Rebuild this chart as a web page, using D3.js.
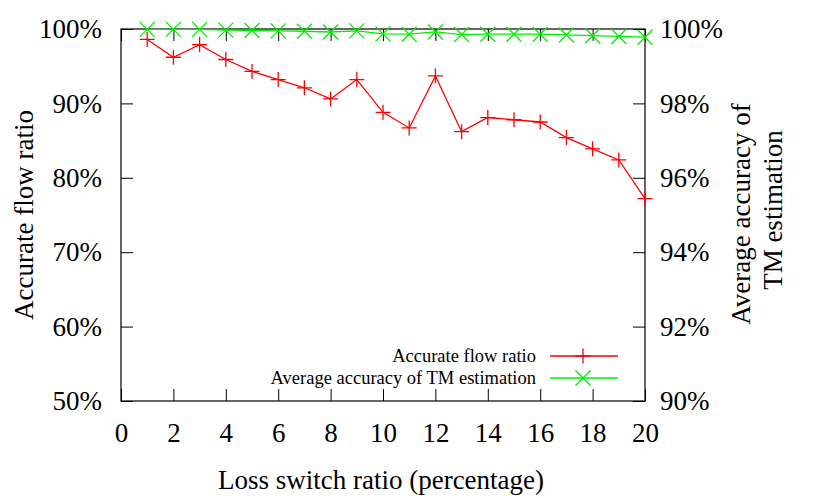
<!DOCTYPE html>
<html>
<head>
<meta charset="utf-8">
<script src="https://cdn.jsdelivr.net/npm/d3@7"></script>
<style>
  body { margin: 0; background: #fff; }
</style>
</head>
<body>
<div id="graphic"></div>
<script>
var switchRatio = d3.range(1, 21);

var flowRatio = [98.6, 96.2, 97.9, 95.9, 94.3, 93.2, 92.1, 90.6, 93.2, 88.8,
                 86.7, 93.7, 86.2, 88.1, 87.8, 87.5, 85.4, 83.9, 82.4, 77.2];

var tmAccuracy = [99.99, 99.99, 99.99, 99.97, 99.96, 99.95, 99.94, 99.92, 99.95, 99.87,
                  99.86, 99.92, 99.85, 99.86, 99.86, 99.86, 99.84, 99.82, 99.80, 99.78];

var xTicks = d3.range(0, 21, 2);
var leftTicks = [50, 60, 70, 80, 90, 100];
var rightTicks = [90, 92, 94, 96, 98, 100];

var seriesNames = ["Accurate flow ratio", "Average accuracy of TM estimation"];

var FONT = "'Liberation Serif', 'Times New Roman', Times, serif";

var graphic = new Object;

graphic.create = function() {
  var left = 121, right = 645, top = 29, bottom = 401, tick = 12;
  var svg = d3.select("#graphic").append("svg").attr("width", 830).attr("height", 498)
    .style("font-family", FONT);

  var x = d3.scaleLinear().domain([0, 20]).range([left, right]);
  var yl = d3.scaleLinear().domain([50, 100]).range([bottom, top]);
  var yr = d3.scaleLinear().domain([90, 100]).range([bottom, top]);

  var fmt = function(d) { return d + "%"; };

  // axes, ticks drawn inward like gnuplot
  var styleAxis = function(g) {
    g.attr("font-family", null).attr("font-size", null);
    g.select(".domain").remove();
    g.selectAll(".tick line").attr("stroke", "#000").attr("stroke-width", 1);
    g.selectAll(".tick text").style("font-size", "27px").style("font-family", FONT).attr("fill", "#000");
  };

  svg.append("g").attr("transform", "translate(0," + bottom + ")")
    .call(d3.axisBottom(x).tickValues(xTicks).tickSizeInner(-tick).tickPadding(22))
    .call(styleAxis);
  svg.append("g").attr("transform", "translate(0," + top + ")")
    .call(d3.axisTop(x).tickValues(xTicks).tickSizeInner(-tick).tickFormat(""))
    .call(styleAxis);
  svg.append("g").attr("transform", "translate(" + left + ",0)")
    .call(d3.axisLeft(yl).tickValues(leftTicks).tickFormat(fmt).tickSizeInner(-tick).tickPadding(19))
    .call(styleAxis);
  svg.append("g").attr("transform", "translate(" + right + ",0)")
    .call(d3.axisRight(yr).tickValues(rightTicks).tickFormat(fmt).tickSizeInner(-tick).tickPadding(15))
    .call(styleAxis);

  svg.append("rect").attr("x", left).attr("y", top)
    .attr("width", right - left).attr("height", bottom - top)
    .attr("fill", "none").attr("stroke", "#000").attr("stroke-width", 1.2);

  // titles
  var title = function(tr, txt) {
    return svg.append("text").attr("transform", tr).attr("text-anchor", "middle")
      .style("font-size", "27px").style("font-family", FONT).attr("fill", "#000").text(txt);
  };
  title("translate(381,489)", "Loss switch ratio (percentage)");
  title("translate(33,215) rotate(-90)", "Accurate flow ratio");
  title("translate(750,214) rotate(-90)", "Average accuracy of");
  title("translate(782,210) rotate(-90)", "TM estimation");

  var drawPlus = function(g, cx, cy, s) {
    g.append("path").attr("d", "M" + (cx - s) + "," + cy + "H" + (cx + s) + "M" + cx + "," + (cy - s) + "V" + (cy + s));
  };
  var drawCross = function(g, cx, cy, s) {
    g.append("path").attr("d", "M" + (cx - s) + "," + (cy - s) + "L" + (cx + s) + "," + (cy + s) +
      "M" + (cx - s) + "," + (cy + s) + "L" + (cx + s) + "," + (cy - s));
  };

  // red series
  var redLine = d3.line().x(function(d, i) { return x(switchRatio[i]); }).y(function(d) { return yl(d); });
  svg.append("path").datum(flowRatio).attr("d", redLine)
    .attr("fill", "none").attr("stroke", "#ff0000").attr("stroke-width", 1.3);
  var redPts = svg.append("g").attr("stroke", "#ff0000").attr("stroke-width", 1.3).attr("fill", "none");
  flowRatio.forEach(function(d, i) { drawPlus(redPts, x(switchRatio[i]), yl(d), 7.5); });

  // green series
  var greenLine = d3.line().x(function(d, i) { return x(switchRatio[i]); }).y(function(d) { return yr(d); });
  svg.append("path").datum(tmAccuracy).attr("d", greenLine)
    .attr("fill", "none").attr("stroke", "#00ee00").attr("stroke-width", 1.3);
  var greenPts = svg.append("g").attr("stroke", "#00ee00").attr("stroke-width", 1.3).attr("fill", "none");
  tmAccuracy.forEach(function(d, i) { drawCross(greenPts, x(switchRatio[i]), yr(d), 7.5); });

  // legend
  var lg = svg.append("g");
  var legendY = [356, 378];
  var colors = ["#ff0000", "#00ee00"];
  seriesNames.forEach(function(name, i) {
    lg.append("text").attr("x", 536).attr("y", legendY[i] + 6).attr("text-anchor", "end")
      .style("font-size", "18.5px").style("font-family", FONT).attr("fill", "#000").text(name);
    lg.append("line").attr("x1", 550).attr("x2", 618).attr("y1", legendY[i]).attr("y2", legendY[i])
      .attr("stroke", colors[i]).attr("stroke-width", 1.3);
    var mg = lg.append("g").attr("stroke", colors[i]).attr("stroke-width", 1.3);
    if (i === 0) drawPlus(mg, 583, legendY[i], 7.5); else drawCross(mg, 583, legendY[i], 7.5);
  });
};

graphic.create();
</script>
</body>
</html>
